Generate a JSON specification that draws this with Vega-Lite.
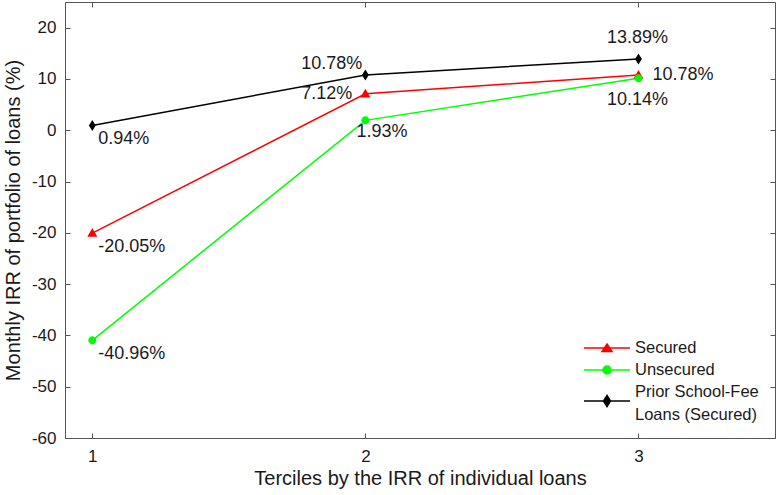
{
  "$schema": "https://vega.github.io/schema/vega-lite/v6.json",
  "width": 710,
  "height": 436,
  "autosize": {"type": "none"},
  "padding": {"left": 65, "top": 2, "right": 1, "bottom": 57},
  "background": "white",
  "config": {
    "view": {"stroke": null},
    "font": "Liberation Sans",
    "axis": {
      "grid": false,
      "domainColor": "#555555",
      "tickColor": "#555555",
      "tickSize": -5,
      "labelColor": "#1a1a1a",
      "titleColor": "#1a1a1a",
      "labelFont": "Liberation Sans",
      "titleFont": "Liberation Sans",
      "labelFontSize": 17,
      "titleFontWeight": "normal"
    },
    "text": {"font": "Liberation Sans", "fontSize": 18, "color": "#1a1a1a"}
  },
  "data": {"values": [
    {"x": 1, "series": "Secured", "irr": -20.05},
    {"x": 2, "series": "Secured", "irr": 7.12},
    {"x": 3, "series": "Secured", "irr": 10.78},
    {"x": 1, "series": "Unsecured", "irr": -40.96},
    {"x": 2, "series": "Unsecured", "irr": 1.93},
    {"x": 3, "series": "Unsecured", "irr": 10.14},
    {"x": 1, "series": "Prior School-Fee Loans (Secured)", "irr": 0.94},
    {"x": 2, "series": "Prior School-Fee Loans (Secured)", "irr": 10.78},
    {"x": 3, "series": "Prior School-Fee Loans (Secured)", "irr": 13.89}
  ]},
  "transform": [{"calculate": "replace(format(datum.irr, '.2f'), '\u2212', '-') + '%'", "as": "label"}],
  "resolve": {"axis": {"x": "independent", "y": "independent"}},
  "layer": [
    {
      "encoding": {
        "x": {"field": "x", "type": "quantitative", "scale": {"domain": [0.9, 3.5], "nice": false, "zero": false},
              "axis": {"values": [1, 2, 3], "format": "d", "title": "Terciles by the IRR of individual loans", "titleFontSize": 20, "labelPadding": 15, "titlePadding": 4}},
        "y": {"field": "irr", "type": "quantitative", "scale": {"domain": [-60, 25], "nice": false, "zero": false},
              "axis": {"values": [-60, -50, -40, -30, -20, -10, 0, 10, 20], "labelExpr": "replace(datum.label, '\u2212', '-')", "title": "Monthly IRR of portfolio of loans (%)", "titleFontSize": 20, "labelPadding": 14, "titlePadding": 8}}
      },
      "layer": [
        {
          "mark": {"type": "line", "strokeWidth": 1.5},
          "encoding": {
            "color": {"field": "series", "type": "nominal",
                      "scale": {"domain": ["Secured", "Unsecured", "Prior School-Fee Loans (Secured)"], "range": ["#ff0000", "#00ff00", "#000000"]},
                      "legend": {
                        "title": null, "orient": "none", "legendX": 533, "legendY": 337, "padding": 0,
                        "symbolSize": 256, "rowPadding": 4, "labelOffset": 19,
                        "labelFont": "Liberation Sans", "labelFontSize": 16.5, "labelColor": "#1a1a1a",
                        "labelLimit": 300,
                        "labelExpr": "datum.label == 'Prior School-Fee Loans (Secured)' ? ['Prior School-Fee', 'Loans (Secured)'] : datum.label",
                        "encode": {
                          "labels": {"update": {"lineHeight": {"value": 22.5}}},
                          "symbols": {"update": {
                            "shape": {"signal": "datum.value == 'Secured' ? 'M-2.875,0H2.875M0,-0.5L0.625,0.45L-0.625,0.45Z' : datum.value == 'Unsecured' ? 'M-2.875,0H2.875M-0.5,0A0.5,0.5 0 1,0 0.5,0A0.5,0.5 0 1,0 -0.5,0Z' : 'M-2.875,1.125H2.875M0,0.435L0.44,1.125L0,1.815L-0.44,1.125Z'"},
                            "stroke": {"signal": "scale('color', datum.value)"},
                            "fill": {"signal": "scale('color', datum.value)"},
                            "strokeWidth": {"value": 1.5},
                            "opacity": {"value": 1}
                          }}
                        }
                      }},
            "detail": {"field": "series"}
          }
        },
        {
          "transform": [{"filter": "datum.series == 'Secured'"}],
          "mark": {"type": "point", "filled": true, "opacity": 1, "color": "#ff0000", "size": 100, "shape": "M0,-1L1,0.75L-1,0.75Z"}
        },
        {
          "transform": [{"filter": "datum.series == 'Unsecured'"}],
          "mark": {"type": "point", "filled": true, "opacity": 1, "color": "#00ff00", "size": 100, "shape": "M-0.8,0A0.8,0.8 0 1,0 0.8,0A0.8,0.8 0 1,0 -0.8,0Z"}
        },
        {
          "transform": [{"filter": "datum.series == 'Prior School-Fee Loans (Secured)'"}],
          "mark": {"type": "point", "filled": true, "opacity": 1, "color": "#000000", "size": 100, "shape": "M0,-1.1L0.68,0L0,1.1L-0.68,0Z"}
        },
        {
          "transform": [{"filter": "datum.x == 1"}],
          "mark": {"type": "text", "align": "left", "baseline": "middle", "dx": 6, "dy": 14},
          "encoding": {"text": {"field": "label"}}
        },
        {
          "transform": [{"filter": "datum.x == 2 && datum.series == 'Prior School-Fee Loans (Secured)'"}],
          "mark": {"type": "text", "align": "right", "baseline": "middle", "dx": -3, "dy": -11},
          "encoding": {"text": {"field": "label"}}
        },
        {
          "transform": [{"filter": "datum.x == 2 && datum.series == 'Secured'"}],
          "mark": {"type": "text", "align": "right", "baseline": "middle", "dx": -13, "dy": 0},
          "encoding": {"text": {"field": "label"}}
        },
        {
          "transform": [{"filter": "datum.x == 2 && datum.series == 'Unsecured'"}],
          "mark": {"type": "text", "align": "left", "baseline": "middle", "dx": -9, "dy": 12},
          "encoding": {"text": {"field": "label"}}
        },
        {
          "transform": [{"filter": "datum.x == 3 && datum.series == 'Prior School-Fee Loans (Secured)'"}],
          "mark": {"type": "text", "align": "center", "baseline": "middle", "dx": -1, "dy": -21},
          "encoding": {"text": {"field": "label"}}
        },
        {
          "transform": [{"filter": "datum.x == 3 && datum.series == 'Secured'"}],
          "mark": {"type": "text", "align": "left", "baseline": "middle", "dx": 14, "dy": 0},
          "encoding": {"text": {"field": "label"}}
        },
        {
          "transform": [{"filter": "datum.x == 3 && datum.series == 'Unsecured'"}],
          "mark": {"type": "text", "align": "center", "baseline": "middle", "dx": -1, "dy": 22},
          "encoding": {"text": {"field": "label"}}
        }
      ]
    },
    {
      "mark": {"type": "point", "opacity": 0},
      "encoding": {
        "x": {"field": "x", "type": "quantitative", "scale": {"domain": [0.9, 3.5], "nice": false, "zero": false},
              "axis": {"orient": "top", "values": [1, 2, 3], "labels": false, "title": null}},
        "y": {"field": "irr", "type": "quantitative", "scale": {"domain": [-60, 25], "nice": false, "zero": false},
              "axis": {"orient": "right", "values": [-60, -50, -40, -30, -20, -10, 0, 10, 20], "labels": false, "title": null}}
      }
    }
  ]
}
